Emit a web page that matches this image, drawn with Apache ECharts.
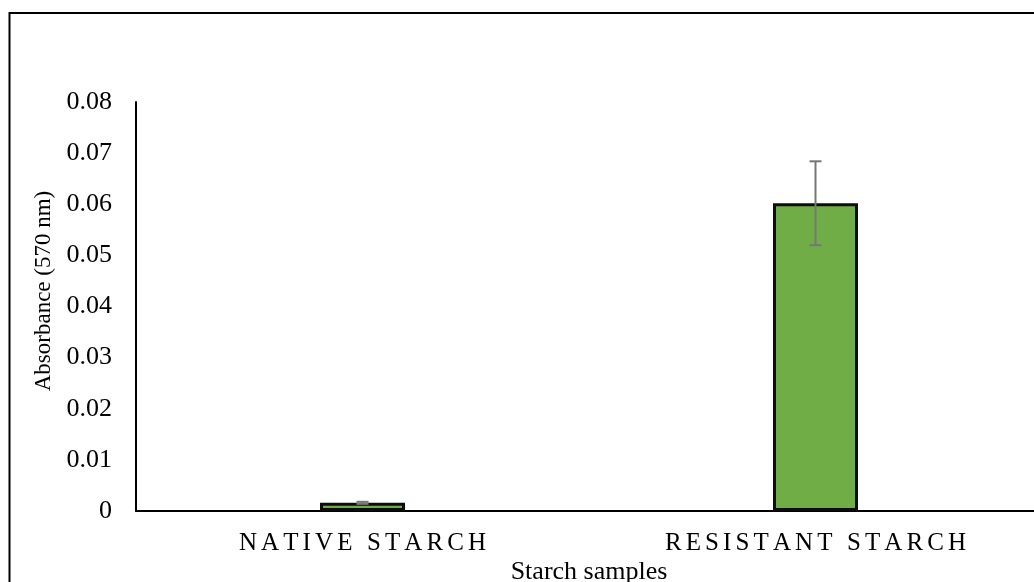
<!DOCTYPE html>
<html>
<head>
<meta charset="utf-8">
<script src="https://cdn.jsdelivr.net/npm/echarts@6/dist/echarts.min.js"></script>
<style>
  html, body { margin: 0; padding: 0; background: #fff; overflow: hidden; }
  #chart { width: 1034px; height: 582px; }
</style>
</head>
<body>
<div id="chart"></div>
<script>
  const categories = ['NATIVE STARCH', 'RESISTANT STARCH'];
  const absorbance = [0.0016, 0.0602];
  const errorPlusMinus = [0.0002, 0.0082];
  const yTicks = [0, 0.01, 0.02, 0.03, 0.04, 0.05, 0.06, 0.07, 0.08];

  const serif = "'Liberation Serif', 'Times New Roman', serif";
  const chart = echarts.init(document.getElementById('chart'));

  const errorData = absorbance.map((v, i) => [i, v - errorPlusMinus[i], v + errorPlusMinus[i]]);

  // Category labels are drawn with expanded character spacing:
  // each character becomes its own rich-text token with right padding.
  function spaced(label) {
    const chars = Array.from(label);
    return chars.map((c, i) => '{' + (i === chars.length - 1 ? 'e' : 'c') + '|' + c + '}').join('');
  }
  const labelFont = { color: '#000', fontFamily: serif, fontSize: 25 };

  chart.setOption({
    animation: false,
    backgroundColor: '#fff',
    grid: { left: 136, top: 102, bottom: 71, width: 906, containLabel: false, outerBoundsMode: 'none' },
    xAxis: {
      type: 'category',
      data: categories,
      axisLine: { lineStyle: { color: '#000', width: 2 } },
      axisTick: { show: false },
      axisLabel: {
        margin: 20,
        interval: 0,
        hideOverlap: false,
        formatter: spaced,
        rich: {
          c: Object.assign({ padding: [0, 4.1, 0, 0] }, labelFont),
          e: Object.assign({}, labelFont)
        }
      }
    },
    yAxis: {
      type: 'value',
      min: yTicks[0],
      max: yTicks[yTicks.length - 1],
      interval: 0.01,
      axisLine: { show: true, lineStyle: { color: '#000', width: 2 } },
      axisTick: { show: false },
      splitLine: { show: false },
      axisLabel: {
        color: '#000', fontFamily: serif, fontSize: 26, margin: 24,
        formatter: v => String(Math.round(v * 100) / 100)
      }
    },
    graphic: [
      {
        type: 'rect', z: -1, silent: true,
        shape: { x: 9.5, y: 13, width: 1100, height: 700 },
        style: { fill: 'none', stroke: '#000', lineWidth: 2 }
      },
      {
        type: 'text', x: 44, y: 291, rotation: Math.PI / 2,
        style: { text: 'Absorbance (570 nm)', fill: '#000', font: '23px ' + serif, textAlign: 'center', textVerticalAlign: 'middle' }
      },
      {
        type: 'text', x: 589, y: 572,
        style: { text: 'Starch samples', fill: '#000', font: '26px ' + serif, textAlign: 'center', textVerticalAlign: 'middle' }
      }
    ],
    series: [
      {
        type: 'bar',
        data: absorbance,
        barWidth: 85,
        itemStyle: { color: '#70AD47', borderColor: '#0d0d0d', borderWidth: 3 }
      },
      {
        type: 'custom',
        data: errorData,
        z: 10,
        renderItem: (params, api) => {
          const x = api.coord([api.value(0), api.value(1)])[0];
          const lo = api.coord([api.value(0), api.value(1)])[1];
          const hi = api.coord([api.value(0), api.value(2)])[1];
          const half = 6;
          const style = { stroke: '#777777', lineWidth: 2 };
          return {
            type: 'group',
            children: [
              { type: 'line', shape: { x1: x, y1: lo, x2: x, y2: hi }, style },
              { type: 'line', shape: { x1: x - half, y1: hi, x2: x + half, y2: hi }, style },
              { type: 'line', shape: { x1: x - half, y1: lo, x2: x + half, y2: lo }, style }
            ]
          };
        }
      }
    ]
  });
</script>
</body>
</html>
